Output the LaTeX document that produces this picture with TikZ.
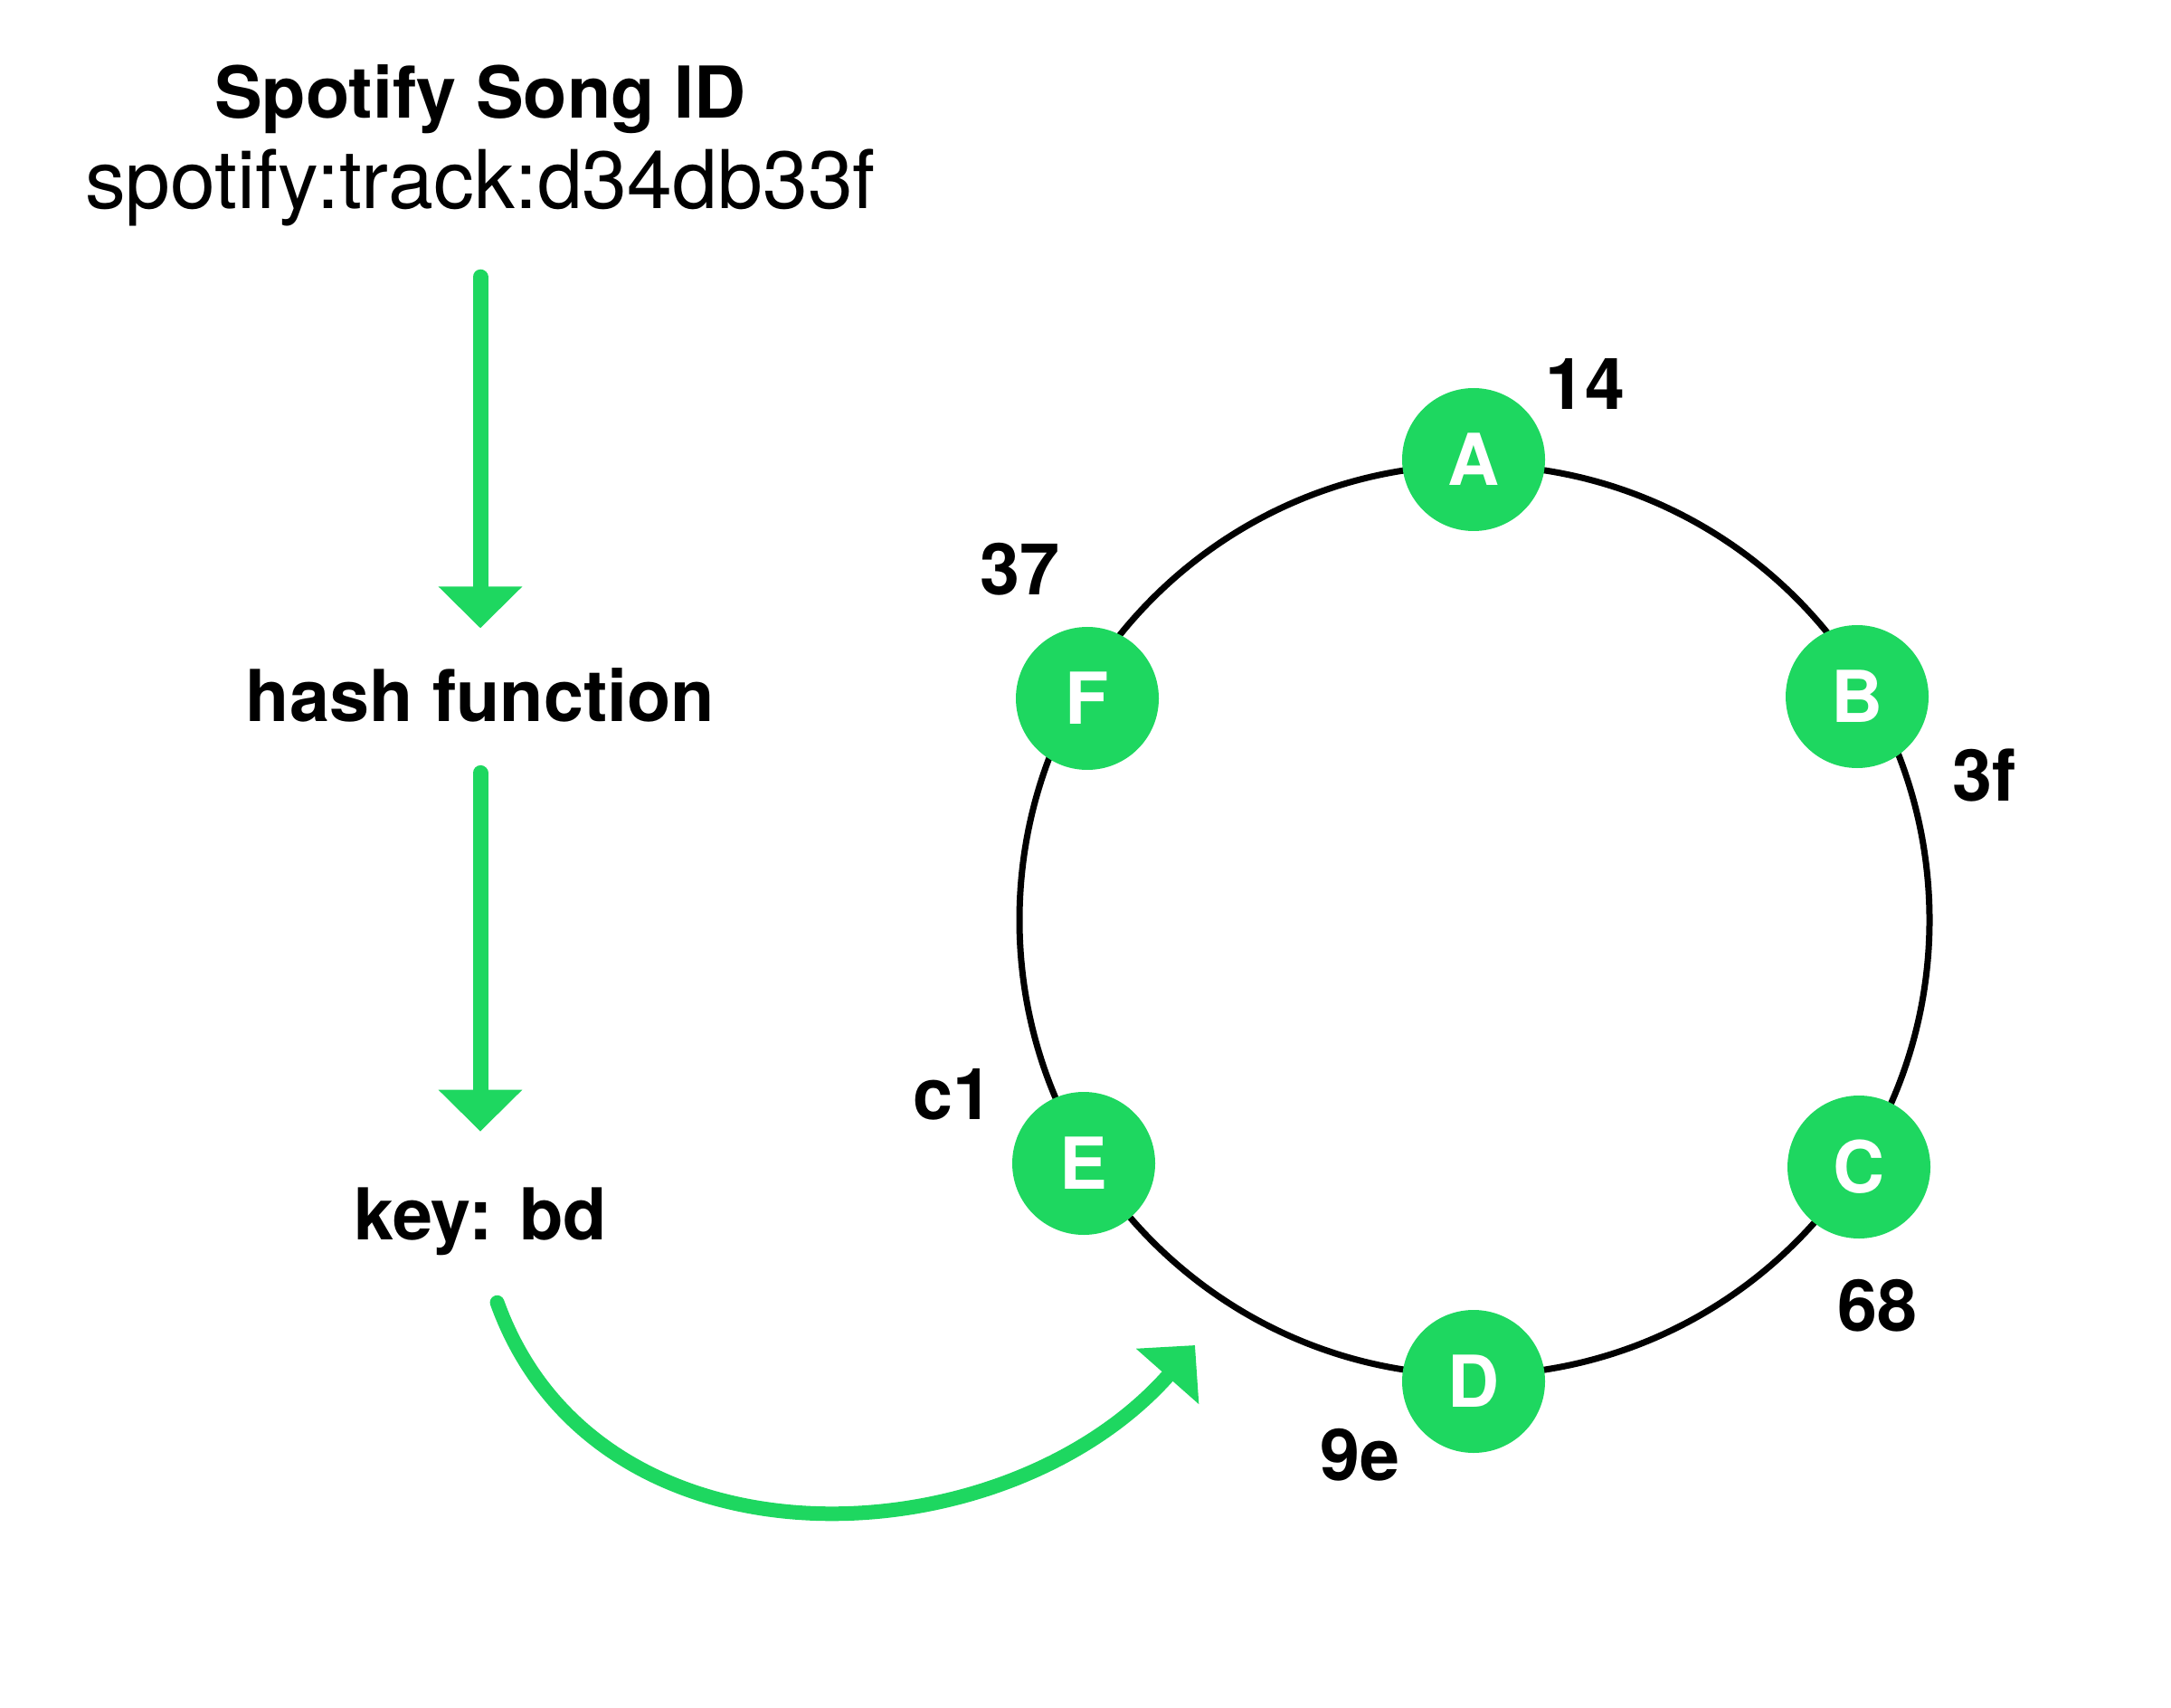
\documentclass[tikz,border=0pt]{standalone}
\usepackage{fontspec}
\setmainfont{TeX Gyre Heros}
\usetikzlibrary{arrows.meta,calc}
\definecolor{spgreen}{RGB}{30,215,96}

\begin{document}
\begin{tikzpicture}[
	txt/.style={inner sep=0pt, font=\fontsize{22.5}{27}\selectfont\bfseries},
	flow/.style={draw=spgreen, line width=0.17cm, line cap=round, shorten <=0.55cm, -{Triangle[length=0.46cm,width=0.9cm]}},
	peer/.style={circle, fill=spgreen, text=white, minimum size=1.58cm, inner sep=0pt, font=\fontsize{22.5}{27}\selectfont\bfseries}
]
	\useasboundingbox (0,0) rectangle (24,18.87);

	\node[txt, anchor=base] (title) at (5.31,17.56) {Spotify Song ID};
	\node[txt, anchor=base, font=\fontsize{25.5}{30}\selectfont] (track) at (5.31,16.56) {spotify:track:d34db33f};
	\node[txt, anchor=base] (hash) at (5.31,10.89) {hash function};
	\node[txt, anchor=base] (key) at (5.31,5.17) {key: bd};

	\draw[flow, shorten >=0.44cm] (track) -- (hash);
	\draw[flow, shorten >=0.61cm] (hash) -- (key);

	% pierscien
	\coordinate (ring) at (16.30,8.70);
	\draw[line width=0.07cm] (ring) circle(5.03);
	\foreach \n/\x/\y in {A/16.29/13.79, B/20.53/11.17, C/20.55/5.97, D/16.29/3.60, E/11.98/6.01, F/12.02/11.15} {{
		\node[peer] (\n) at (\x,\y) {\n};
	}}
	\foreach \n/\lab/\x/\y in {A/14/17.52/14.34, B/3f/21.94/10.02, C/68/20.75/4.16, D/9e/15.03/2.51, E/c1/10.53/6.50, F/37/11.27/12.29} {{
		\node[txt, anchor=base] (h\n) at (\x,\y) {\lab};
	}}

	\coordinate (land) at (13.21,4.00);
	\draw[flow, line width=0.16cm] (key.south) .. controls (6.6,1.4) and (11.09,1.60) .. (land);
\end{tikzpicture}
\end{document}
